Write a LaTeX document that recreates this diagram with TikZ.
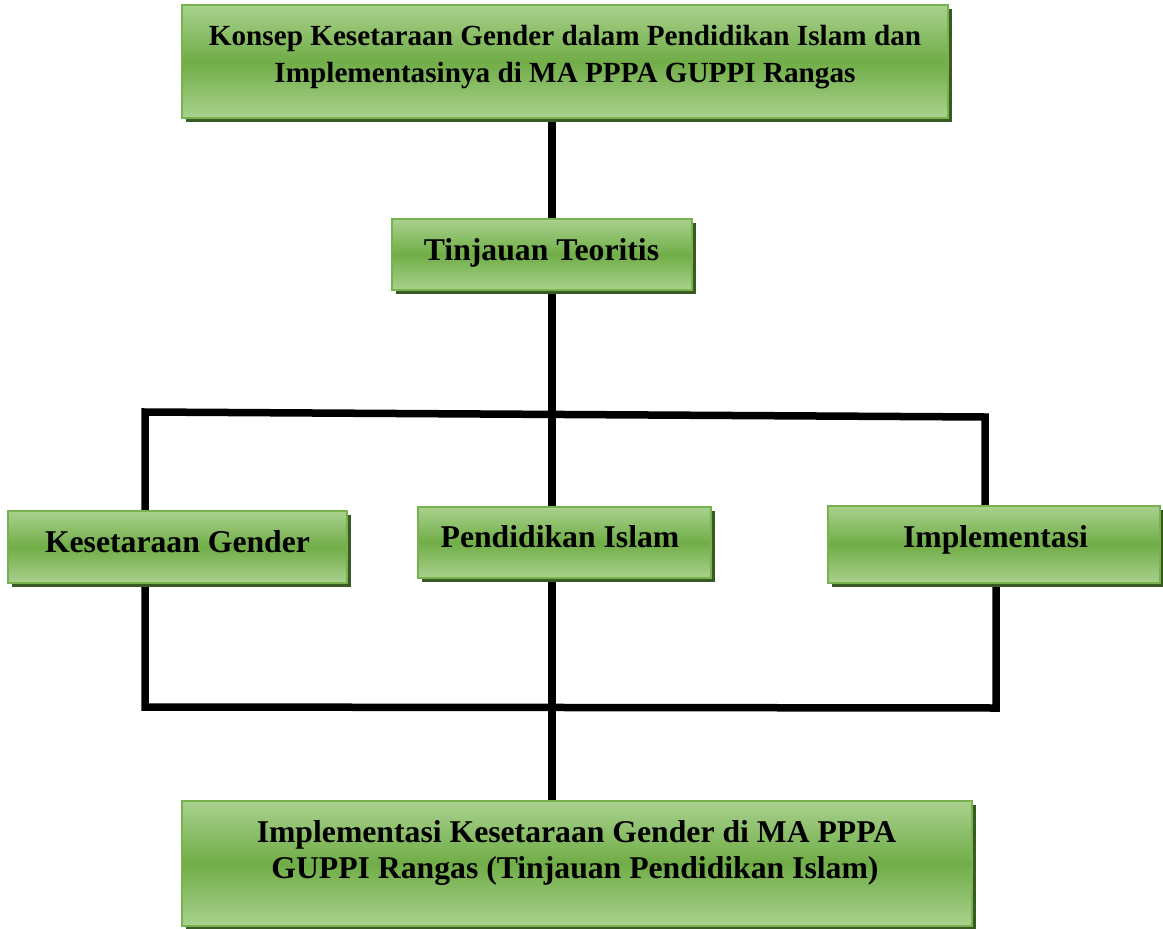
\documentclass[tikz,border=0pt]{standalone}
\usepackage{fontspec}
\setmainfont{Liberation Serif}
\usetikzlibrary{shadows,backgrounds}
\definecolor{lightg}{HTML}{A9D18E}
\definecolor{midg}{HTML}{70AD47}
\definecolor{bordg}{HTML}{78B24F}
\definecolor{shadg}{HTML}{3A5A24}
\tikzset{
  box/.style={rectangle, inner sep=0pt, draw=bordg, line width=1.6pt,
    top color=lightg, bottom color=lightg, middle color=midg,
    drop shadow={shadow xshift=3.5pt, shadow yshift=-3.5pt, fill=shadg, opacity=1}},
  lbl/.style={anchor=base, inner sep=0pt, font=\bfseries\fontsize{31.7}{38}\selectfont},
  lbltop/.style={anchor=base, inner sep=0pt, font=\bfseries\fontsize{29.2}{36}\selectfont},
  conn/.style={draw=black, line width=7.5pt, line join=miter, line cap=rect}
}
\begin{document}
\begin{tikzpicture}[x=1pt,y=-1pt]
\useasboundingbox (0,0) rectangle (1163,929);
% boxes
\node[box, minimum width=766, minimum height=113] (top) at (565,61.5) {};
\node[box, minimum width=300, minimum height=71] (tin) at (542,254.5) {};
\node[box, minimum width=339, minimum height=72] (kg) at (177.5,547) {};
\node[box, minimum width=293, minimum height=71] (pi) at (564.5,542.5) {};
\node[box, minimum width=332, minimum height=77] (imp) at (994,544.5) {};
\node[box, minimum width=790, minimum height=125] (bot) at (577,863.5) {};
% labels
\node[lbltop] (toptxta) at (565,45) {Konsep Kesetaraan Gender dalam Pendidikan Islam dan};
\node[lbltop] (toptxtb) at (565,82) {Implementasinya di MA PPPA GUPPI Rangas};
\node[lbl] (tintxt) at (541.5,260) {Tinjauan Teoritis};
\node[lbl] (kgtxt) at (177.5,552) {Kesetaraan Gender};
\node[lbl] (pitxt) at (560,547) {Pendidikan Islam};
\node[lbl] (imptxt) at (995.5,547) {Implementasi};
\node[lbl] (bottxta) at (576.5,842) {Implementasi Kesetaraan Gender di MA PPPA};
\node[lbl] (bottxtb) at (575,878) {GUPPI Rangas (Tinjauan Pendidikan Islam)};
% connector helper coordinates
\coordinate (spine) at (552,0);
\coordinate (ul) at (145,412);
\coordinate (ur) at (985,417);
\coordinate (ll) at (145,707);
\coordinate (lr) at (996,708);
\begin{scope}[on background layer]
\fill[white] (0,0) rectangle (1163,929);
\draw[conn, line cap=butt] (spine |- top.south) -- (spine |- bot.north);
\draw[conn] (ul |- kg.north) -- (ul) -- (ur) -- (ur |- imp.north);
\draw[conn] (ll |- kg.south) -- (ll) -- (lr) -- (lr |- imp.south);
\end{scope}
\end{tikzpicture}
\end{document}
